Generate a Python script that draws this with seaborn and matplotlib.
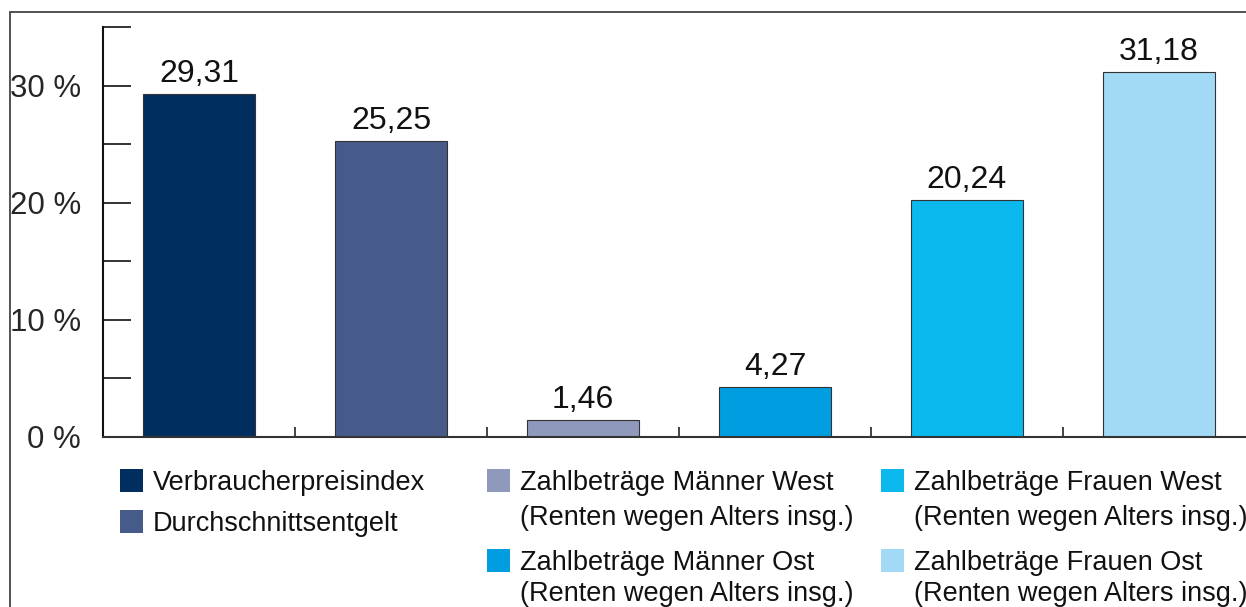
import matplotlib
matplotlib.use("Agg")
import matplotlib.pyplot as plt
from matplotlib.patches import Rectangle
import seaborn as sns

categories = [
    "Verbraucherpreisindex",
    "Durchschnittsentgelt",
    "Zahlbeträge Männer West",
    "Zahlbeträge Männer Ost",
    "Zahlbeträge Frauen West",
    "Zahlbeträge Frauen Ost",
]
values = [29.31, 25.25, 1.46, 4.27, 20.24, 31.18]
colors = ["#002f5f", "#475b8b", "#8e99bb", "#009ee0", "#0cb9ee", "#a2d9f5"]
legend_lines = [
    ["Verbraucherpreisindex"],
    ["Durchschnittsentgelt"],
    ["Zahlbeträge Männer West", "(Renten wegen Alters insg.)"],
    ["Zahlbeträge Männer Ost", "(Renten wegen Alters insg.)"],
    ["Zahlbeträge Frauen West", "(Renten wegen Alters insg.)"],
    ["Zahlbeträge Frauen Ost", "(Renten wegen Alters insg.)"],
]
ytick_values = [0, 5, 10, 15, 20, 25, 30, 35]
ytick_labels = ["0 %", "", "10 %", "", "20 %", "", "30 %", ""]

sns.set_theme(style="white")
plt.rcParams["font.family"] = ["Liberation Sans", "DejaVu Sans"]

W, H = 1246, 607
fig = plt.figure(figsize=(W / 100, H / 100), dpi=100)

# axes box in pixel coordinates: x from 103 to 1255, y from 27 (35 %) to 437 (0 %)
left, right, top, bottom = 103, 1255, 27, 437
ax = fig.add_axes([left / W, (H - bottom) / H, (right - left) / W, (bottom - top) / H])

sns.barplot(x=categories, y=values, hue=categories, palette=colors, width=0.58,
            edgecolor="#333333", linewidth=0.8, saturation=1, legend=False, ax=ax)

ax.set_xlim(-0.5, 5.5)
ax.set_ylim(0, 35)
ax.set_xlabel("")
ax.set_ylabel("")

for cont in ax.containers:
    ax.bar_label(cont, labels=[f"{v:.2f}".replace(".", ",") for v in cont.datavalues],
                 padding=3.5, fontsize=23, color="#111111")

ax.set_yticks(ytick_values)
ax.set_yticklabels(ytick_labels, fontsize=22.5)
ax.tick_params(axis="y", direction="in", length=20, width=1.2, color="#111111",
               pad=16, left=True)
ax.set_xticks([0.5, 1.5, 2.5, 3.5, 4.5])
ax.set_xticklabels([])
ax.tick_params(axis="x", direction="in", length=7, width=1.2, color="#222222", bottom=True)

for s in ["top", "right"]:
    ax.spines[s].set_visible(False)
ax.spines["left"].set_color("#111111")
ax.spines["left"].set_linewidth(1.5)
ax.spines["bottom"].set_color("#333333")
ax.spines["bottom"].set_linewidth(1.5)

# outer frame
frame = Rectangle((9.5 / W, -0.1), 1.2, (H - 12) / H + 0.1, transform=fig.transFigure,
                  fill=False, edgecolor="#444444", linewidth=1.3, clip_on=False)
fig.patches.append(frame)

# legend laid out in three columns: (marker x, marker top y, text x, baselines)
sq = 23
entries = [
    (120, 469, 153, [490]),
    (120, 510, 153, [531]),
    (487, 469, 520, [490, 525]),
    (487, 549, 520, [570, 601]),
    (881, 469, 914, [490, 525]),
    (881, 549, 914, [570, 601]),
]
for i, (mx, my, tx, baselines) in enumerate(entries):
    fig.patches.append(Rectangle((mx / W, (H - my - sq) / H), sq / W, sq / H,
                                 transform=fig.transFigure, facecolor=colors[i],
                                 edgecolor="none"))
    for line, by in zip(legend_lines[i], baselines):
        fig.text(tx / W, (H - by) / H, line, fontsize=19.5, va="baseline",
                 ha="left", color="#111111", transform=fig.transFigure)

fig.savefig("out.png", dpi=100)
